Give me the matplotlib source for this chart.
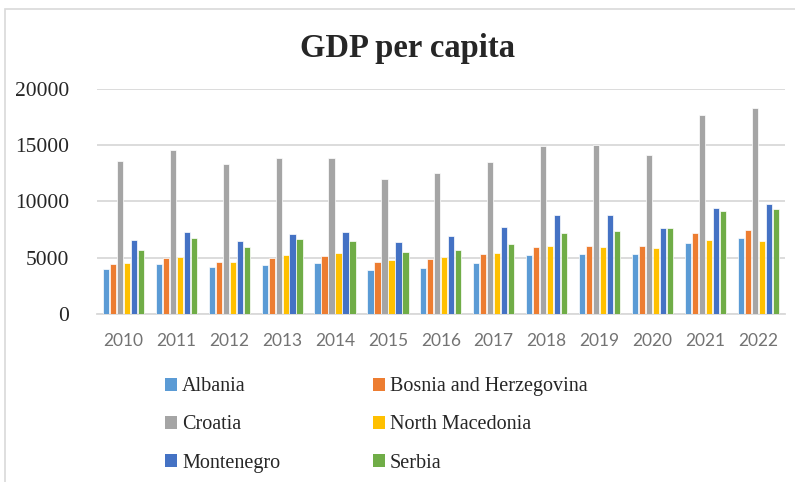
import numpy as np
import matplotlib
matplotlib.use('Agg')
import matplotlib.pyplot as plt
from matplotlib.patches import Rectangle, Patch

# Data
years = ['2010', '2011', '2012', '2013', '2014', '2015', '2016',
         '2017', '2018', '2019', '2020', '2021', '2022']
albania = [4030, 4390, 4210, 4360, 4540, 3880, 4060, 4480, 5250, 5340, 5280, 6320, 6730]
bosnia = [4450, 4950, 4630, 4980, 5130, 4590, 4860, 5280, 5960, 6010, 6050, 7170, 7500]
croatia = [13610, 14590, 13370, 13880, 13900, 12010, 12510, 13520, 14970, 15060, 14170, 17700, 18350]
north_macedonia = [4500, 5040, 4650, 5190, 5450, 4800, 5100, 5390, 6050, 5990, 5900, 6610, 6520]
montenegro = [6610, 7260, 6520, 7120, 7320, 6430, 6970, 7770, 8810, 8830, 7620, 9400, 9810]
serbia = [5660, 6760, 5960, 6700, 6520, 5540, 5720, 6230, 7170, 7350, 7680, 9160, 9340]

series_names = ['Albania', 'Bosnia and Herzegovina', 'Croatia',
                'North Macedonia', 'Montenegro', 'Serbia']
series_values = [albania, bosnia, croatia, north_macedonia, montenegro, serbia]
colors = ['#5B9BD5', '#ED7D31', '#A5A5A5', '#FFC000', '#4472C4', '#70AD47']

fig = plt.figure(figsize=(7.95, 4.82), dpi=100)
ax = fig.add_axes([0.122, 0.349, 0.865, 0.466])

# chart border
fig.patches.append(Rectangle((5 / 795, -0.05), 1.1, 1 - 9 / 482 + 0.05,
                             transform=fig.transFigure, fill=False,
                             edgecolor='#D9D9D9', linewidth=1.2))

x = np.arange(len(years))
step = 0.132
width = 0.118
for i, (name, vals) in enumerate(zip(series_names, series_values)):
    offset = (i - 2.5) * step
    ax.bar(x + offset, vals, width, color=colors[i], edgecolor='white',
           linewidth=0.5, label=name, zorder=3)

ax.set_xlim(-0.5, len(years) - 0.5)
ax.set_ylim(0, 20000)
ax.set_yticks(np.arange(0, 20001, 5000))
ax.set_yticklabels([str(v) for v in range(0, 20001, 5000)],
                   fontfamily='Liberation Serif', fontsize=15.5, color='#262626')
ax.set_xticks(x)
ax.set_xticklabels(years, fontfamily='Lato', fontsize=12.5, color='#737373')
ax.tick_params(axis='x', length=0, pad=14)
ax.tick_params(axis='y', length=0, pad=20)

ax.grid(axis='y', color='#D9D9D9', linewidth=1.3, zorder=0)
ax.set_axisbelow(True)
for s in ['top', 'right', 'left']:
    ax.spines[s].set_visible(False)
ax.spines['bottom'].set_color('#D9D9D9')
ax.spines['bottom'].set_linewidth(1.3)

fig.text(0.513, 0.882, 'GDP per capita', ha='center', va='baseline',
         fontfamily='Liberation Serif', fontweight='bold', fontsize=23.5,
         color='#262626')

# legend, filled row by row
order = [0, 2, 4, 1, 3, 5]
handles = [Patch(facecolor=colors[i], edgecolor='none') for i in order]
labels = [series_names[i] for i in order]
leg = fig.legend(handles, labels, ncol=2, loc='upper left',
                 bbox_to_anchor=(0.195, 0.238), frameon=False,
                 prop={'family': 'Liberation Serif', 'size': 14.5},
                 handlelength=0.6, handleheight=0.6, handletextpad=0.25,
                 columnspacing=4.6, labelspacing=0.95, borderpad=0)
for t in leg.get_texts():
    t.set_color('#262626')

fig.savefig('out.png', dpi=100)
